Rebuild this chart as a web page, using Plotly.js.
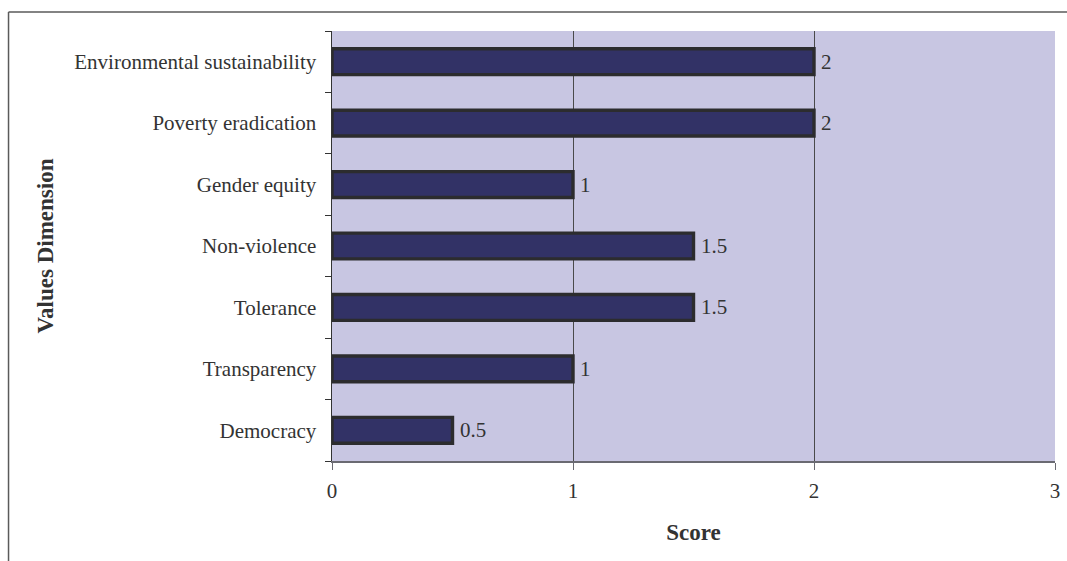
<!DOCTYPE html>
<html>
<head>
<meta charset="utf-8">
<script src="https://cdn.plot.ly/plotly-3.0.1.min.js"></script>
<style>
  html, body { margin: 0; padding: 0; background: #ffffff; }
  #chart { width: 1067px; height: 561px; }
</style>
</head>
<body>
<div id="chart"></div>
<script>
// Values dimensions, listed from the bottom bar to the top bar
const dimensions = [
  "Democracy",
  "Transparency",
  "Tolerance",
  "Non-violence",
  "Gender equity",
  "Poverty eradication",
  "Environmental sustainability"
];
const scores = [0.5, 1, 1.5, 1.5, 1, 2, 2];
const scoreTicks = [0, 1, 2, 3];

const serif = "'Liberation Serif', 'Times New Roman', serif";
const ink = "#333333";
const labelSize = 21;

const trace = {
  type: "bar",
  orientation: "h",
  y: dimensions,
  x: scores,
  width: 0.42,
  marker: {
    color: "#323266",
    line: { color: "#2c2c2e", width: 3.4 }
  },
  hoverinfo: "x+y"
};

// value labels just to the right of each bar end
const valueLabels = scores.map((v, i) => ({
  x: v,
  y: dimensions[i],
  xref: "x",
  yref: "y",
  text: String(v),
  showarrow: false,
  xanchor: "left",
  yanchor: "middle",
  xshift: 5,
  font: { family: serif, size: labelSize, color: ink }
}));

const layout = {
  width: 1067,
  height: 561,
  margin: { l: 332, r: 12, t: 31, b: 100 },
  paper_bgcolor: "#ffffff",
  plot_bgcolor: "#C8C6E2",
  showlegend: false,
  font: { family: serif, size: labelSize, color: ink },
  xaxis: {
    range: [0, 3],
    tickvals: scoreTicks,
    ticktext: scoreTicks.map(String),
    showgrid: true,
    gridcolor: "#4a4a4a",
    gridwidth: 1,
    zeroline: false,
    showline: true,
    linecolor: "#6a6a72",
    linewidth: 1.5,
    ticks: "outside",
    ticklen: 7,
    tickcolor: "#6a6a72",
    tickwidth: 1,
    ticklabelstandoff: 3,
    tickfont: { family: serif, size: labelSize, color: ink },
    title: {
      text: "<b>Score</b>",
      font: { family: serif, size: 23, color: ink },
      standoff: 22
    },
    fixedrange: true
  },
  yaxis: {
    type: "category",
    categoryorder: "array",
    categoryarray: dimensions,
    tickson: "boundaries",
    ticks: "outside",
    ticklen: 6,
    tickcolor: "#333333",
    tickwidth: 1,
    ticklabelstandoff: 10,
    showgrid: false,
    showline: true,
    linecolor: "#333333",
    linewidth: 1.5,
    tickfont: { family: serif, size: labelSize, color: ink },
    title: {
      text: "<b>Values Dimension</b>",
      font: { family: serif, size: 23, color: ink },
      standoff: 14
    },
    fixedrange: true
  },
  annotations: valueLabels,
  shapes: [
    // outer frame: top and left edges
    {
      type: "line", xref: "paper", yref: "paper",
      x0: -0.4474, x1: 1.02, y0: 1.0442, y1: 1.0442,
      line: { color: "#5a5a5a", width: 1.5 }
    },
    {
      type: "line", xref: "paper", yref: "paper",
      x0: -0.4474, x1: -0.4474, y0: 1.0442, y1: -0.24,
      line: { color: "#5a5a5a", width: 1.5 }
    }
  ]
};

Plotly.newPlot("chart", [trace], layout, { displayModeBar: false, staticPlot: true });
</script>
</body>
</html>
